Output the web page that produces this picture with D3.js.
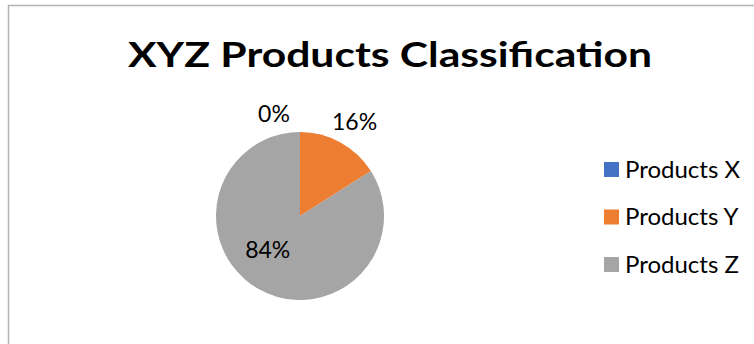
<!DOCTYPE html>
<html lang="en">
<head>
  <meta charset="UTF-8">
  <title>XYZ Products Classification</title>
  <style>
    body {
      margin: 0;
      background: #fff;
      font-family: Lato, 'Open Sans', sans-serif;
    }
    svg {
      display: block;
    }
  </style>
</head>
<body>

<svg width="754" height="344"></svg>

<script src="https://d3js.org/d3.v7.min.js"></script>
<script>
// chart data
const categories = ["Products X", "Products Y", "Products Z"];
const values = [0, 16, 84];
const colors = ["#4472c4", "#ed7d31", "#a5a5a5"];

const svg = d3.select("svg");

// chart area frame (right/bottom edges run off the picture)
svg.append("rect")
  .attr("x", 8.5)
  .attr("y", 5.5)
  .attr("width", 800)
  .attr("height", 400)
  .attr("fill", "#fff")
  .attr("stroke", "#b4b4b4")
  .attr("stroke-width", 1.5);

svg.append("text")
  .attr("x", 390)
  .attr("y", 67)
  .attr("text-anchor", "middle")
  .attr("font-size", "34px")
  .attr("font-weight", "bold")
  .attr("fill", "#000")
  .attr("textLength", 524)
  .attr("lengthAdjust", "spacingAndGlyphs")
  .text("XYZ Products Classification");

const cx = 300, cy = 216, r = 84;
const total = d3.sum(values);
const color = d3.scaleOrdinal().domain(categories).range(colors);

const pie = d3.pie().sort(null).value(d => d.value);
const arcs = pie(categories.map((c, i) => ({ name: c, value: values[i] })));
const arc = d3.arc().innerRadius(0).outerRadius(r);

const pieGroup = svg.append("g").attr("transform", `translate(${cx},${cy})`);

pieGroup.selectAll("path")
  .data(arcs)
  .join("path")
  .attr("d", arc)
  .attr("fill", d => color(d.data.name));

// labels sit just outside the pie for the small slices, inside for the big one
const outerArc = d3.arc().innerRadius(r * 1.15).outerRadius(r * 1.15);
const innerArc = d3.arc().innerRadius(r * 0.55).outerRadius(r * 0.55);
const labelPos = [
  d => { const p = outerArc.centroid(d); return [p[0] - 26, p[1] - 5]; },
  d => { const p = outerArc.centroid(d); return [p[0] + 8, p[1] - 9]; },
  d => { const p = innerArc.centroid(d); return [p[0] - 10, p[1] - 7]; }
];

pieGroup.selectAll("text")
  .data(arcs)
  .join("text")
  .attr("transform", (d, i) => `translate(${labelPos[i](d)})`)
  .attr("text-anchor", "middle")
  .attr("dy", "0.35em")
  .attr("font-size", "23px")
  .attr("fill", "#000")
  .text(d => Math.round(d.data.value / total * 100) + "%");

// legend
const legendY = d3.scalePoint().domain(categories).range([169, 264]);
const legend = svg.append("g")
  .selectAll("g")
  .data(categories)
  .join("g")
  .attr("transform", d => `translate(604,${legendY(d)})`);

legend.append("rect")
  .attr("x", 0)
  .attr("y", -7)
  .attr("width", 15)
  .attr("height", 15)
  .attr("fill", d => color(d));

legend.append("text")
  .attr("x", 21)
  .attr("dy", "0.36em")
  .attr("font-size", "24px")
  .attr("fill", "#000")
  .text(d => d);
</script>

</body>
</html>
